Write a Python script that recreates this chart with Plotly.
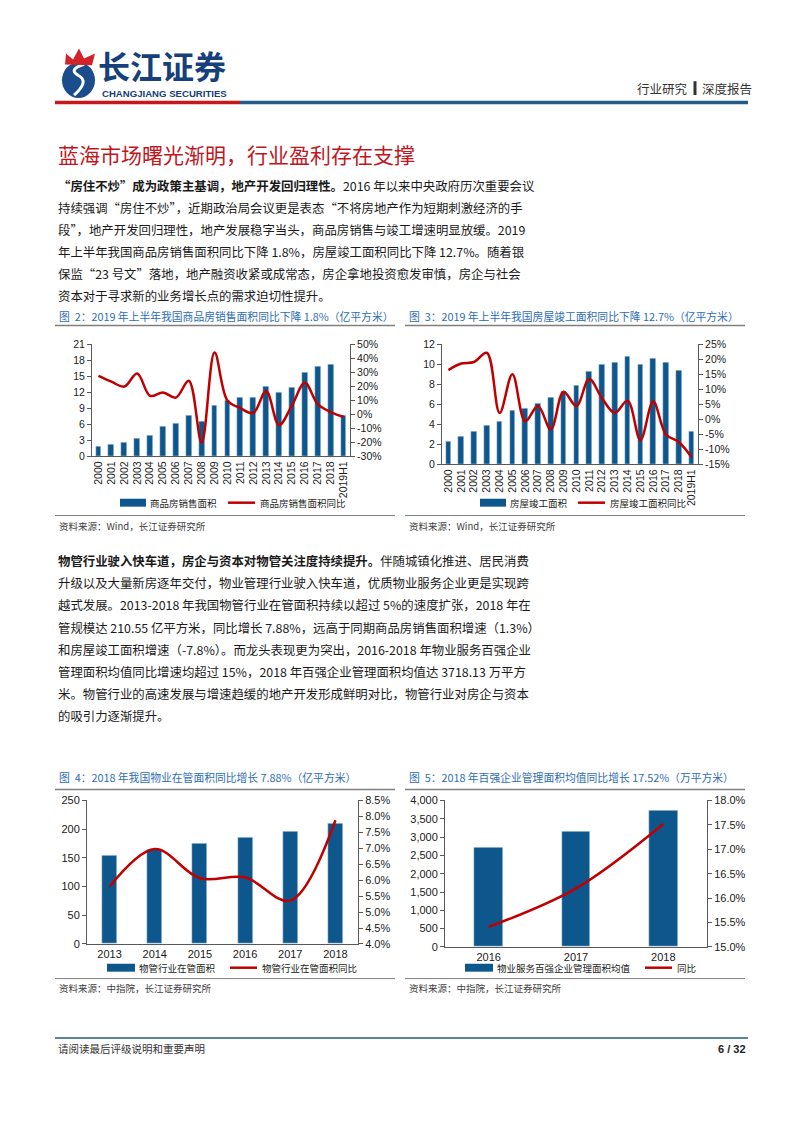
import plotly.graph_objects as go

W, H = 802, 1133
LAT = "Liberation Sans, Arial, Noto Sans CJK SC, sans-serif"
CJK = "Noto Sans CJK SC, Liberation Sans, sans-serif"
BAR = "#0E578C"
RED = "#C00000"
TBLUE = "#2D6DB5"
AXC = "#595959"

# ---------------- data ----------------
years_a = ["2000", "2001", "2002", "2003", "2004", "2005", "2006", "2007", "2008", "2009",
           "2010", "2011", "2012", "2013", "2014", "2015", "2016", "2017", "2018", "2019H1"]
sales_area = [1.86, 2.24, 2.68, 3.38, 3.82, 5.55, 6.19, 7.74, 6.59, 9.48,
              10.48, 10.99, 11.13, 13.06, 12.06, 12.85, 15.73, 16.94, 17.17, 7.58]
sales_yoy = [27.4, 23.3, 19.8, 29.1, 13.2, 15.6, 11.9, 24.0, -20.3, 44.2,
             9.8, 4.4, 0.9, 16.7, -7.8, 6.3, 22.5, 7.2, 1.6, -1.8]
compl_area = [2.30, 2.74, 3.28, 3.93, 4.30, 5.39, 5.62, 6.12, 6.68, 7.27,
              7.92, 9.30, 9.97, 10.17, 10.80, 10.03, 10.63, 10.17, 9.41, 3.29]
compl_yoy = [16.4, 18.6, 19.1, 22.2, 2.1, 15.0, -0.7, 4.4, -3.4, 9.2,
             4.4, 13.4, 7.0, 2.1, 6.2, -7.0, 5.9, -5.1, -7.6, -12.7]
years_b = ["2013", "2014", "2015", "2016", "2017", "2018"]
pm_area = [153.9, 164.6, 174.6, 185.3, 195.2, 210.55]
pm_yoy = [5.80, 6.98, 6.06, 6.09, 5.36, 7.88]
years_c = ["2016", "2017", "2018"]
top100_area = [2723, 3164, 3718.13]
top100_yoy = [15.41, 16.20, 17.52]

ticks_r_a = [-30, -20, -10, 0, 10, 20, 30, 40, 50]
ticks_r_b = [-15, -10, -5, 0, 5, 10, 15, 20, 25]


def X(px):
    return px / W


def Y(py):
    return 1 - py / H


fig = go.Figure()

# chart 2
fig.add_trace(go.Bar(x=years_a, y=sales_area, marker_color=BAR, width=0.45,
                     xaxis="x", yaxis="y", name="商品房销售面积", showlegend=False))
fig.add_trace(go.Scatter(x=years_a, y=sales_yoy, mode="lines",
                         line=dict(color=RED, width=2.5, shape="spline", smoothing=1.0),
                         xaxis="x", yaxis="y2", name="商品房销售面积同比", showlegend=False))
# chart 3
fig.add_trace(go.Bar(x=years_a, y=compl_area, marker_color=BAR, width=0.45,
                     xaxis="x2", yaxis="y3", name="房屋竣工面积", showlegend=False))
fig.add_trace(go.Scatter(x=years_a, y=compl_yoy, mode="lines",
                         line=dict(color=RED, width=2.5, shape="spline", smoothing=1.0),
                         xaxis="x2", yaxis="y4", name="房屋竣工面积同比", showlegend=False))
# chart 4
fig.add_trace(go.Bar(x=years_b, y=pm_area, marker_color=BAR, width=0.33,
                     xaxis="x3", yaxis="y5", name="物管行业在管面积", showlegend=False))
fig.add_trace(go.Scatter(x=years_b, y=pm_yoy, mode="lines",
                         line=dict(color=RED, width=2.5, shape="spline", smoothing=1.0),
                         xaxis="x3", yaxis="y6", name="物管行业在管面积同比", showlegend=False))
# chart 5
fig.add_trace(go.Bar(x=years_c, y=top100_area, marker_color=BAR, width=0.33,
                     xaxis="x4", yaxis="y7", name="物业服务百强企业管理面积均值", showlegend=False))
fig.add_trace(go.Scatter(x=years_c, y=top100_yoy, mode="lines",
                         line=dict(color=RED, width=2.5, shape="spline", smoothing=1.0),
                         xaxis="x4", yaxis="y8", name="同比", showlegend=False))

tickfont_s = dict(family=LAT, size=10.5, color="#1a1a1a")
tickfont_m = dict(family=LAT, size=11, color="#1a1a1a")


def xax(l, r, yref, cats, angle, font):
    return dict(domain=[X(l), X(r)], anchor=yref, type="category", tickangle=angle,
                tickmode="array", tickvals=cats, ticktext=cats,
                range=[-0.5, len(cats) - 0.5], showline=True, linecolor=AXC, linewidth=1,
                ticks="", showgrid=False, zeroline=False, tickfont=font, fixedrange=True)


def yax(top, bot, xref, rng, dtick, font, fmt=None):
    d = dict(domain=[Y(bot), Y(top)], anchor=xref, range=rng, dtick=dtick, tick0=rng[0],
             showline=True, linecolor=AXC, linewidth=1, ticks="outside", ticklen=4,
             tickcolor=AXC, showgrid=False, zeroline=False, tickfont=font, fixedrange=True)
    if fmt:
        d["tickformat"] = fmt
    return d


def yax_r(top, bot, xref, over, rng, font, vals=None, dtick=None, fmt=None, suffix=None):
    d = dict(domain=[Y(bot), Y(top)], anchor=xref, overlaying=over, side="right", range=rng,
             showline=True, linecolor=AXC, linewidth=1, ticks="outside", ticklen=4,
             tickcolor=AXC, showgrid=False, zeroline=False, tickfont=font, fixedrange=True)
    if vals is not None:
        d.update(tickmode="array", tickvals=vals, ticktext=[f"{v}%" for v in vals])
    else:
        d.update(dtick=dtick, tick0=rng[0], tickformat=fmt, ticksuffix=suffix)
    return d


fig.update_layout(
    width=W, height=H, margin=dict(l=0, r=0, t=0, b=0), autosize=False,
    paper_bgcolor="white", plot_bgcolor="white", bargap=0,
    font=dict(family=CJK, size=11, color="#222"),
    xaxis=xax(92, 350, "y", years_a, -90, tickfont_s),
    yaxis=yax(342, 455, "x", [0, 21], 3, tickfont_s),
    yaxis2=yax_r(342, 455, "x", "y", [-30, 50], tickfont_s, vals=ticks_r_a),
    xaxis2=xax(442, 698, "y3", years_a, -90, tickfont_s),
    yaxis3=yax(342, 463, "x2", [0, 12], 2, tickfont_s),
    yaxis4=yax_r(342, 463, "x2", "y3", [-15, 25], tickfont_s, vals=ticks_r_b),
    xaxis3=xax(87, 358, "y5", years_b, 0, tickfont_m),
    yaxis5=yax(803, 948, "x3", [0, 250], 50, tickfont_m),
    yaxis6=yax_r(803, 948, "x3", "y5", [4.0, 8.5], tickfont_m, dtick=0.5, fmt=".1f", suffix="%"),
    xaxis4=xax(445, 707, "y7", years_c, 0, tickfont_m),
    yaxis7=yax(803, 951, "x4", [0, 4000], 500, tickfont_m, fmt=",d"),
    yaxis8=yax_r(803, 951, "x4", "y7", [15.0, 18.0], tickfont_m, dtick=0.5, fmt=".1f", suffix="%"),
)

shapes = []
ann = []


def hline(x0, x1, y, color, width):
    shapes.append(dict(type="line", xref="paper", yref="paper", x0=X(x0), x1=X(x1),
                       y0=Y(y), y1=Y(y), line=dict(color=color, width=width)))


def rect(x0, x1, y0, y1, color):
    shapes.append(dict(type="rect", xref="paper", yref="paper", x0=X(x0), x1=X(x1),
                       y0=Y(y1), y1=Y(y0), fillcolor=color, line=dict(width=0)))


def text(x, y, s, size, color="#222", family=CJK, xanchor="left"):
    ann.append(dict(xref="paper", yref="paper", x=X(x), y=Y(y), text=s, showarrow=False,
                    xanchor=xanchor, yanchor="middle", align="left",
                    font=dict(family=family, size=size, color=color)))


NB = "\u00a0"

# ---------- header ----------
# logo emblem (approximation)
shapes.append(dict(type="circle", xref="paper", yref="paper", x0=X(62), x1=X(95),
                   y0=Y(93), y1=Y(57), fillcolor="#1B4C8C", line=dict(width=0)))
swirl = "M {},{} Q {},{} {},{} Q {},{} {},{}".format(
    X(74), Y(90), X(90), Y(76), X(78), Y(70), X(68), Y(64), X(84), Y(59))
shapes.append(dict(type="path", xref="paper", yref="paper", path=swirl,
                   line=dict(color="white", width=3)))
flame = "M {},{} L {},{} L {},{} L {},{} L {},{} L {},{} L {},{} Z".format(
    X(65), Y(59), X(66), Y(48), X(73), Y(54), X(79), Y(43), X(84), Y(53), X(95), Y(48), X(92), Y(60))
shapes.append(dict(type="path", xref="paper", yref="paper", path=flame,
                   fillcolor="#D2232A", line=dict(width=0)))
text(96, 60, "<b>长江证券</b>", 32, color="#16407A", family=CJK)
text(100, 88, "<b>CHANGJIANG" + NB + "SECURITIES</b>", 9.6, color="#16407A", family=LAT)
text(690, 83, "行业研究", 12.5, color="#333", xanchor="right")
rect(693.5, 696.5, 76, 90, "#333")
text(700, 83, "深度报告", 12.5, color="#333")
hline(55, 240, 97.5, "#C8161D", 3.5)
hline(240, 748, 97.5, "#1F5C8C", 3.5)

# ---------- section title ----------
text(56, 150, "蓝海市场曙光渐明，行业盈利存在支撑", 21, color="#C0161E")

# ---------- paragraph 1 ----------
para1 = [
    "<b>“房住不炒”成为政策主基调，地产开发回归理性。</b>2016 年以来中央政府历次重要会议",
    "持续强调“房住不炒”，近期政治局会议更是表态“不将房地产作为短期刺激经济的手",
    "段”，地产开发回归理性，地产发展稳字当头，商品房销售与竣工增速明显放缓。2019",
    "年上半年我国商品房销售面积同比下降 1.8%，房屋竣工面积同比下降 12.7%。随着银",
    "保监“23 号文”落地，地产融资收紧或成常态，房企拿地投资愈发审慎，房企与社会",
    "资本对于寻求新的业务增长点的需求迫切性提升。",
]
for i, s in enumerate(para1):
    text(56, 182 + i * 22.2, s, 12.4, color="#1a1a1a")

# ---------- chart titles / separators ----------
text(57, 313, "图" + NB + NB + "2：2019 年上半年我国商品房销售面积同比下降 1.8%（亿平方米）", 10.8, color=TBLUE)
text(407, 313, "图" + NB + NB + "3：2019 年上半年我国房屋竣工面积同比下降 12.7%（亿平方米）", 10.8, color=TBLUE)
hline(55, 395, 323, "#7F7F7F", 1.5)
hline(405, 745, 323, "#7F7F7F", 1.5)

# legends charts 2/3
rect(120, 146, 498, 506, BAR)
text(148, 502, "商品房销售面积", 9.5)
hline(228, 255, 502, RED, 2.5)
text(258, 502, "商品房销售面积同比", 9.5)
rect(480, 506, 498, 506, BAR)
text(508, 502, "房屋竣工面积", 9.5)
hline(578, 605, 502, RED, 2.5)
text(608, 502, "房屋竣工面积同比", 9.5)

hline(55, 395, 515, "#7F7F7F", 1)
hline(405, 745, 515, "#7F7F7F", 1)
text(57, 526, "资料来源：Wind，长江证券研究所", 9.5, color="#404040")
text(407, 526, "资料来源：Wind，长江证券研究所", 9.5, color="#404040")

# ---------- paragraph 2 ----------
para2 = [
    "<b>物管行业驶入快车道，房企与资本对物管关注度持续提升。</b>伴随城镇化推进、居民消费",
    "升级以及大量新房逐年交付，物业管理行业驶入快车道，优质物业服务企业更是实现跨",
    "越式发展。2013-2018 年我国物管行业在管面积持续以超过 5%的速度扩张，2018 年在",
    "管规模达 210.55 亿平方米，同比增长 7.88%，远高于同期商品房销售面积增速（1.3%）",
    "和房屋竣工面积增速（-7.8%）。而龙头表现更为突出，2016-2018 年物业服务百强企业",
    "管理面积均值同比增速均超过 15%，2018 年百强企业管理面积均值达 3718.13 万平方",
    "米。物管行业的高速发展与增速趋缓的地产开发形成鲜明对比，物管行业对房企与资本",
    "的吸引力逐渐提升。",
]
for i, s in enumerate(para2):
    text(56, 561 + i * 22.4, s, 12.4, color="#1a1a1a")

# ---------- charts 4/5 ----------
text(57, 779, "图" + NB + NB + "4：2018 年我国物业在管面积同比增长 7.88%（亿平方米）", 10.8, color=TBLUE)
text(407, 779, "图" + NB + NB + "5：2018 年百强企业管理面积均值同比增长 17.52%（万平方米）", 10.8, color=TBLUE)
hline(55, 395, 792, "#7F7F7F", 1.5)
hline(405, 745, 792, "#7F7F7F", 1.5)

rect(107, 135, 968, 976, BAR)
text(137, 972, "物管行业在管面积", 9.5)
hline(230, 257, 972, RED, 2.5)
text(260, 972, "物管行业在管面积同比", 9.5)
rect(465, 493, 968, 976, BAR)
text(495, 972, "物业服务百强企业管理面积均值", 9.5)
hline(645, 672, 972, RED, 2.5)
text(675, 972, "同比", 9.5)

hline(55, 395, 983, "#7F7F7F", 1)
hline(405, 745, 983, "#7F7F7F", 1)
text(57, 993, "资料来源：中指院，长江证券研究所", 9.5, color="#404040")
text(407, 993, "资料来源：中指院，长江证券研究所", 9.5, color="#404040")

# ---------- footer ----------
hline(55, 748, 1043, "#1F5C7A", 1.5)
text(56, 1054, "请阅读最后评级说明和重要声明", 10.5, color="#333")
text(748, 1054, "<b>6 / 32</b>", 11, color="#222", family=LAT, xanchor="right")

fig.update_layout(shapes=shapes, annotations=ann)
fig.write_html("out.html")
